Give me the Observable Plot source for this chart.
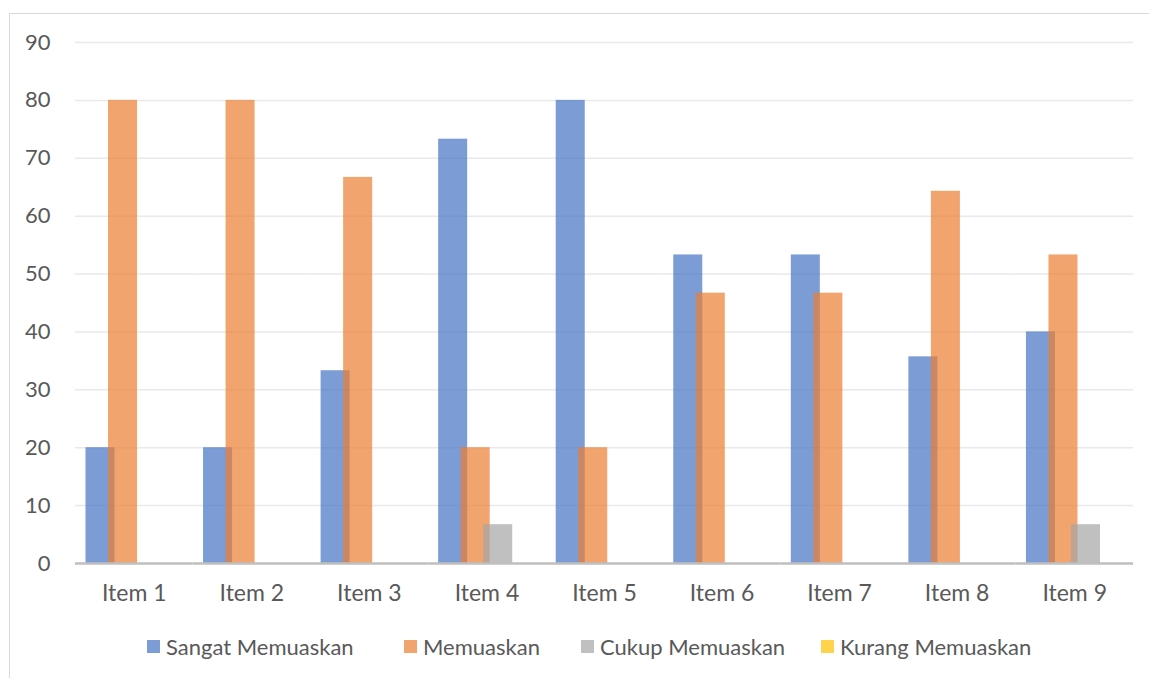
<!DOCTYPE html>
<html><head><meta charset="utf-8">
<script src="https://cdn.jsdelivr.net/npm/d3@7"></script>
<script src="https://cdn.jsdelivr.net/npm/@observablehq/plot@0.6"></script>
<style>
body{margin:0;background:#fff;}
#wrap{position:relative;width:1149px;height:678px;overflow:hidden;font-family:Lato,"Open Sans",sans-serif;}
#frame{position:absolute;left:9px;top:13px;width:1300px;height:700px;border:1px solid #D9D9D9;box-sizing:border-box;}
#chart{position:absolute;left:0;top:0;}
#legend{position:absolute;top:633px;left:0;width:1149px;height:26px;}
.li{position:absolute;top:0;height:26px;display:flex;align-items:center;font-size:22px;color:#595959;white-space:nowrap;}
.sw{width:13px;height:13px;margin-right:6px;}
</style></head>
<body>
<div id="wrap"><div id="frame"></div><div id="chart"></div><div id="legend"></div></div>
<script>
const items = ["Item 1","Item 2","Item 3","Item 4","Item 5","Item 6","Item 7","Item 8","Item 9"];
const series = ["Sangat Memuaskan","Memuaskan","Cukup Memuaskan","Kurang Memuaskan"];
const sangat = [20,20,33.3,73.3,80,53.3,53.3,35.7,40];
const memuaskan = [80,80,66.7,20,20,46.7,46.7,64.3,53.3];
const cukup = [0,0,0,6.7,0,0,0,0,6.7];
const kurang = [0,0,0,0,0,0,0,0,0];
const colors = ["#4472C4","#ED7D31","#A5A5A5","#FFC000"];
const yTicks = [0,10,20,30,40,50,60,70,80,90];

const seriesValues = [sangat, memuaskan, cukup, kurang];
const data = [];
items.forEach((it,i)=>series.forEach((s,j)=>data.push({item:it, series:s, value:seriesValues[j][i]})));

const chart = Plot.plot({
  width:1149, height:620,
  marginLeft:75, marginRight:16, marginTop:42, marginBottom:57,
  style:{fontSize:"22px", fontFamily:"Lato, 'Open Sans', sans-serif", color:"#595959", background:"transparent"},
  fx:{domain:items, padding:0, round:false, label:null, axis:"bottom", tickSize:0, tickPadding:21},
  x:{domain:series, axis:null, paddingInner:0, paddingOuter:0.61, round:false},
  y:{domain:[0,90], ticks:yTicks, label:null, tickSize:0, tickPadding:25},
  color:{domain:series, range:colors},
  marks:[
    Plot.gridY(yTicks,{stroke:"#E9E9E9", strokeOpacity:1, strokeWidth:1.5}),
    Plot.barY(data,{fx:"item", x:"series", y:"value", fill:"series", fillOpacity:0.7, insetLeft:-3.25, insetRight:-3.25}),
    Plot.ruleY([0],{stroke:"#BFBFBF", strokeWidth:2.5})
  ]
});
chart.querySelectorAll("[aria-label='fx-axis tick label']").forEach(n=>n.setAttribute("font-size","23"));
document.getElementById("chart").appendChild(chart);

const legendX = [147,404,581,821];
const leg = document.getElementById("legend");
series.forEach((s,j)=>{
  const d = document.createElement("div");
  d.className="li"; d.style.left = legendX[j]+"px";
  const sw = document.createElement("span"); sw.className="sw"; sw.style.background = d3.color(colors[j]).copy({opacity:0.7}).toString();
  d.appendChild(sw);
  const t = document.createElement("span"); t.textContent = s; d.appendChild(t);
  leg.appendChild(d);
});
</script>
</body></html>
